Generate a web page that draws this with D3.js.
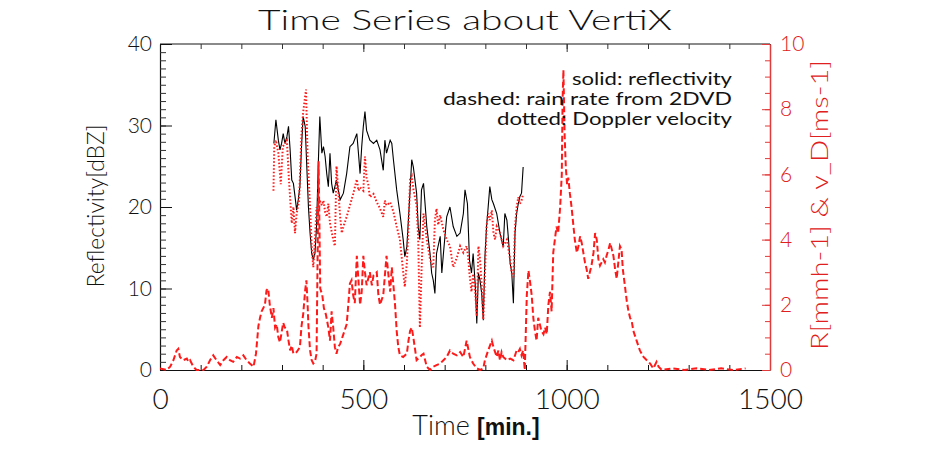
<!DOCTYPE html>
<html>
<head>
<meta charset="utf-8">
<script src="https://cdn.jsdelivr.net/npm/d3@7"></script>
<style>
  html, body { margin: 0; padding: 0; background: #ffffff; }
  svg { display: block; }
</style>
</head>
<body>
<svg id="chart" width="929" height="450"></svg>
<script>
// ---------------- DATA ----------------
const chartTitle = "Time Series about VertiX";
const legendLines = ["solid: reflectivity", "dashed: rain rate from 2DVD", "dotted: Doppler velocity"];
const xTicks = [0, 500, 1000, 1500];
const leftTicks = [0, 10, 20, 30, 40];
const rightTicks = [0, 2, 4, 6, 8, 10];

// Reflectivity [dBZ] (black solid, left axis)
const timeRefl = [280,285,291,295,299,303,307,312,316,320,324,328,332,336,340,344,348,352,357,361,365,369,373,377,381,385,389,393,398,402,406,410,414,418,422,426,434,443,451,459,467,475,484,488,492,496,500,504,508,516,525,533,541,549,553,557,566,570,574,582,590,598,602,607,615,619,623,631,635,639,643,648,656,664,668,672,676,680,689,693,697,705,713,721,730,738,746,750,756,761,766,770,775,779,783,787,791,795,799,803,807,811,816,820,828,836,844,848,853,857,861,865,869,873,877,881,885,889,893];
const reflectivity = [27.8,30.7,28.2,27.0,27.8,29.0,27.8,28.6,29.9,27.0,23.3,22.9,21.3,19.6,20.9,22.5,27.4,31.1,29.9,24.9,20.0,16.8,14.3,13.5,14.3,17.6,24.9,31.1,26.6,27.4,26.2,24.1,22.5,26.6,22.9,21.7,23.3,20.9,21.7,24.1,27.4,27.8,29.0,26.6,24.1,27.4,29.9,31.7,29.4,28.2,27.8,28.2,27.0,24.5,28.2,26.6,28.2,27.8,25.8,22.1,19.2,16.0,13.9,15.1,22.1,25.8,24.9,21.7,17.6,16.0,22.1,22.9,17.6,14.3,11.9,11.0,9.4,14.3,16.4,11.9,14.3,18.8,20.0,17.6,16.4,16.8,19.2,22.1,20.4,13.5,11.9,14.3,10.6,5.7,11.9,11.0,9.4,6.1,13.9,17.6,20.0,22.5,20.9,20.4,19.2,16.8,15.1,19.2,18.4,16.0,13.1,11.9,8.2,16.8,19.2,20.4,21.3,21.7,24.9];

// Doppler velocity [m s-1] (red dotted, right axis)
const timeDop = [279,281,285,291,297,302,307,312,317,324,328,332,336,342,348,352,359,363,369,373,377,381,385,389,393,398,402,406,410,414,418,426,430,434,443,447,451,459,467,475,484,488,492,500,504,508,512,516,525,533,541,549,553,557,566,574,582,590,598,602,607,611,615,619,623,631,635,639,643,648,656,664,668,672,676,680,684,689,697,705,713,721,730,738,746,754,758,761,766,770,775,779,783,787,791,795,799,803,807,811,816,820,824,828,836,844,853,861,865,869,873,877,881,885,889,893];
const doppler = [5.5,6.85,7.05,6.65,5.7,6.85,6.95,7.05,5.85,4.5,5.0,4.2,4.8,5.2,7.25,7.9,8.6,6.55,5.0,3.8,3.15,4.0,5.0,4.8,5.2,5.05,5.2,4.85,4.7,5.1,4.5,4.0,3.8,6.25,4.7,4.2,4.4,4.7,5.05,5.4,5.85,5.5,5.6,5.5,6.55,5.9,5.7,5.3,5.4,5.15,4.95,4.7,5.2,5.05,5.15,4.85,4.4,4.0,3.0,2.55,3.3,4.4,5.85,5.95,5.55,5.05,4.0,1.3,3.0,4.8,4.0,3.4,3.25,3.15,4.6,4.95,4.45,4.75,4.3,4.0,3.8,3.15,3.45,3.8,3.6,3.8,3.45,2.95,2.4,2.95,2.4,1.65,3.8,3.4,2.6,1.55,2.95,4.4,4.8,4.6,4.9,4.2,4.0,4.4,4.2,3.8,4.0,3.4,2.95,2.85,4.4,5.0,5.3,5.1,5.2,5.4];

// Rain rate from 2DVD [mm h-1] (red dashed, right axis)
const timeRain = [0,16,25,33,41,45,49,57,66,70,74,82,90,98,107,115,123,131,139,148,156,164,172,180,189,197,205,213,221,230,236,242,246,250,258,262,266,270,275,279,283,287,291,295,299,303,307,312,316,320,324,328,336,344,348,352,357,360,363,365,369,373,377,381,385,390,394,399,403,408,414,418,422,426,430,434,438,443,451,459,463,467,471,475,479,484,488,492,496,500,504,508,512,516,521,525,533,537,541,549,557,561,566,570,574,578,582,586,590,598,607,611,615,619,623,631,639,643,648,656,664,672,680,689,697,705,713,721,730,738,746,754,762,770,779,787,795,799,807,816,820,828,832,836,840,844,853,861,869,877,881,885,889,893,897,902,906,910,914,918,922,926,930,934,938,943,947,951,955,959,963,967,971,975,979,984,988,990,992,995,998,1001,1004,1008,1012,1016,1020,1025,1029,1033,1037,1041,1045,1049,1053,1057,1061,1066,1070,1074,1078,1082,1086,1090,1094,1098,1103,1107,1111,1115,1119,1123,1127,1131,1135,1138,1142,1148,1152,1156,1160,1164,1172,1180,1189,1197,1205,1213,1221,1226,1234,1260,1290,1320,1350,1380,1410,1440];
const rainRate = [0.05,0.0,0.1,0.3,0.6,0.65,0.4,0.3,0.35,0.25,0.3,0.1,0.0,0.0,0.0,0.1,0.3,0.45,0.3,0.15,0.3,0.4,0.3,0.25,0.4,0.35,0.45,0.3,0.2,0.1,0.5,1.35,1.6,1.8,2.0,2.45,2.5,2.0,1.6,1.9,1.3,1.4,1.0,0.85,1.15,1.45,1.3,1.25,0.9,0.6,0.75,0.5,0.55,0.7,1.35,1.7,2.45,2.75,2.0,1.35,0.6,0.3,0.2,0.25,0.5,6.4,2.5,2.3,1.9,1.7,1.3,0.9,1.8,1.3,0.7,0.5,0.7,0.8,1.1,1.4,2.0,2.65,2.75,2.3,2.05,3.5,2.75,2.0,2.4,3.5,3.0,2.6,2.8,3.0,2.6,2.9,3.0,2.3,2.0,2.3,3.5,3.0,2.4,3.15,2.6,2.0,1.2,0.7,0.45,0.4,0.5,0.9,1.2,1.3,1.0,0.3,0.4,0.45,0.5,0.1,0.0,0.1,0.15,0.2,0.3,0.4,0.6,0.5,0.45,0.55,0.4,0.9,0.4,0.2,0.05,0.0,0.05,0.3,0.6,0.9,0.7,0.4,0.6,0.3,0.55,0.4,0.3,0.35,0.3,0.6,0.55,0.65,0.45,0.6,0.0,2.3,3.05,2.7,2.3,1.6,1.2,0.9,1.6,1.4,1.2,1.1,1.3,1.1,2.0,2.4,1.8,3.6,4.0,4.4,4.2,5.0,6.0,8.3,9.2,7.2,6.2,5.7,5.9,5.4,5.0,4.5,4.0,3.6,3.8,4.1,3.9,3.6,3.3,3.1,2.8,3.0,3.2,3.6,4.2,4.0,3.4,3.2,3.3,3.4,3.3,3.5,3.7,3.9,3.7,3.5,3.1,2.8,3.3,3.8,3.7,3.1,2.7,2.1,1.8,1.6,1.5,1.2,0.9,0.6,0.4,0.3,0.2,0.05,0.25,0.1,0.0,0.05,0.0,0.05,0.0,0.05,0.0,0.05];

// ---------------- CHART ----------------
const svg = d3.select("#chart");
const W = 929, H = 450;
const pLeft = 160, pRight = 770, pTop = 44, pBottom = 370;
const red = "#ff1a1a";
const axisRed = "#e03a3a";
const fontMain = "Lato, 'DejaVu Sans', sans-serif";
const fontWeight = 300;

svg.append("rect").attr("width", W).attr("height", H).attr("fill", "#fff");

const x = d3.scaleLinear().domain([0, 1500]).range([pLeft, pRight]);
const yL = d3.scaleLinear().domain([0, 40]).range([pBottom, pTop]);
const yR = d3.scaleLinear().domain([0, 10]).range([pBottom, pTop]);

// Title
svg.append("text")
  .attr("x", 465).attr("y", 30)
  .attr("text-anchor", "middle")
  .attr("font-family", fontMain).attr("font-weight", fontWeight).attr("font-size", 28)
  .attr("textLength", 414).attr("lengthAdjust", "spacingAndGlyphs")
  .attr("fill", "#111")
  .text(chartTitle);

// Top frame line (gray) with x ticks
svg.append("line").attr("x1", pLeft).attr("x2", pRight).attr("y1", pTop).attr("y2", pTop)
  .attr("stroke", "#8a8a8a").attr("stroke-width", 2);
const topMinor = svg.append("g").attr("transform", `translate(0,${pTop})`)
  .call(d3.axisTop(x).tickValues(d3.range(0, 1501, 100)).tickSize(-5).tickFormat(""));
const topMajor = svg.append("g").attr("transform", `translate(0,${pTop})`)
  .call(d3.axisTop(x).tickValues([500, 1000]).tickSize(-8).tickFormat(""));
[topMinor, topMajor].forEach(g => { g.select(".domain").remove(); g.selectAll("line").attr("stroke", "#333"); });

// Bottom axis
const botMinor = svg.append("g").attr("transform", `translate(0,${pBottom})`)
  .call(d3.axisBottom(x).tickValues(d3.range(0, 1501, 100)).tickSize(-5).tickSizeOuter(0).tickFormat(""));
botMinor.select(".domain").attr("stroke", "#111").attr("stroke-width", 1.2);
botMinor.selectAll("line").attr("stroke", "#111");
const botMajor = svg.append("g").attr("transform", `translate(0,${pBottom})`)
  .call(d3.axisBottom(x).tickValues(xTicks).tickSize(-10).tickPadding(19).tickFormat(d3.format("d")));
botMajor.select(".domain").remove();
botMajor.selectAll("line").attr("stroke", "#111");
botMajor.selectAll("text").attr("font-family", fontMain).attr("font-weight", fontWeight).attr("font-size", 28).attr("fill", "#111");

// Left axis (black)
const lMinor = svg.append("g").attr("transform", `translate(${pLeft},0)`)
  .call(d3.axisLeft(yL).tickValues(d3.range(0, 41, 1)).tickSize(-6).tickSizeOuter(0).tickFormat(""));
lMinor.select(".domain").attr("stroke", "#111").attr("stroke-width", 1.2);
lMinor.selectAll("line").attr("stroke", "#333");
const lMajor = svg.append("g").attr("transform", `translate(${pLeft},0)`)
  .call(d3.axisLeft(yL).tickValues(leftTicks).tickSize(-12).tickPadding(8).tickFormat(d3.format("d")));
lMajor.select(".domain").remove();
lMajor.selectAll("line").attr("stroke", "#111");
lMajor.selectAll("text").attr("font-family", fontMain).attr("font-weight", fontWeight).attr("font-size", 21).attr("fill", "#111");

// Right axis (red)
const rMinor = svg.append("g").attr("transform", `translate(${pRight},0)`)
  .call(d3.axisRight(yR).tickValues(d3.range(0, 10.01, 0.5)).tickSize(-5).tickSizeOuter(0).tickFormat(""));
rMinor.select(".domain").attr("stroke", axisRed).attr("stroke-width", 1.5);
rMinor.selectAll("line").attr("stroke", axisRed);
const rMajor = svg.append("g").attr("transform", `translate(${pRight},0)`)
  .call(d3.axisRight(yR).tickValues(rightTicks).tickSize(-8).tickPadding(10).tickFormat(d3.format("d")));
rMajor.select(".domain").remove();
rMajor.selectAll("line").attr("stroke", axisRed);
rMajor.selectAll("text").attr("font-family", fontMain).attr("font-weight", fontWeight).attr("font-size", 21).attr("fill", "#e02020");

// Axis titles
svg.append("text")
  .attr("transform", "translate(104,206) rotate(-90)")
  .attr("text-anchor", "middle")
  .attr("font-family", fontMain).attr("font-weight", fontWeight).attr("font-size", 24)
  .attr("textLength", 163).attr("lengthAdjust", "spacingAndGlyphs")
  .attr("fill", "#111")
  .text("Reflectivity[dBZ]");

svg.append("text")
  .attr("transform", "translate(828,205) rotate(-90)")
  .attr("text-anchor", "middle")
  .attr("font-family", fontMain).attr("font-weight", fontWeight).attr("font-size", 24)
  .attr("textLength", 290).attr("lengthAdjust", "spacingAndGlyphs")
  .attr("fill", "#e02020")
  .text("R[mmh-1] & v_D[ms-1]");

const xl = svg.append("text")
  .attr("x", 476).attr("y", 435)
  .attr("text-anchor", "middle")
  .attr("fill", "#111");
xl.append("tspan").attr("font-family", fontMain).attr("font-weight", fontWeight).attr("font-size", 27).text("Time ");
xl.append("tspan").attr("font-family", "'Liberation Sans', Arial, sans-serif").attr("font-weight", "bold").attr("font-size", 23).text("[min.]");

// Series
svg.append("clipPath").attr("id", "plotclip").append("rect")
  .attr("x", pLeft).attr("y", pTop - 2).attr("width", pRight - pLeft).attr("height", pBottom - pTop + 3);
const plot = svg.append("g").attr("clip-path", "url(#plotclip)");

const lineL = d3.line().x(d => x(d[0])).y(d => yL(d[1]));
const lineR = d3.line().x(d => x(d[0])).y(d => yR(d[1]));

plot.append("path")
  .datum(d3.zip(timeRefl, reflectivity))
  .attr("d", lineL).attr("fill", "none")
  .attr("stroke", "#000").attr("stroke-width", 1.1);

plot.append("path")
  .datum(d3.zip(timeDop, doppler))
  .attr("d", lineR).attr("fill", "none")
  .attr("stroke", red).attr("stroke-width", 2)
  .attr("stroke-dasharray", "1.5,2");

plot.append("path")
  .datum(d3.zip(timeRain, rainRate))
  .attr("d", lineR).attr("fill", "none")
  .attr("stroke", red).attr("stroke-width", 2)
  .attr("stroke-dasharray", "6,3");

// Legend text
const lg = svg.append("g").attr("font-family", fontMain).attr("font-weight", 400).attr("font-size", 17).attr("fill", "#111").attr("text-anchor", "end");
const legendLens = [160, 289, 235];
const legendY = [85, 105, 125];
legendLines.forEach((s, i) => {
  lg.append("text").attr("x", 732).attr("y", legendY[i])
    .attr("textLength", legendLens[i]).attr("lengthAdjust", "spacingAndGlyphs")
    .text(s);
});
</script>
</body>
</html>
